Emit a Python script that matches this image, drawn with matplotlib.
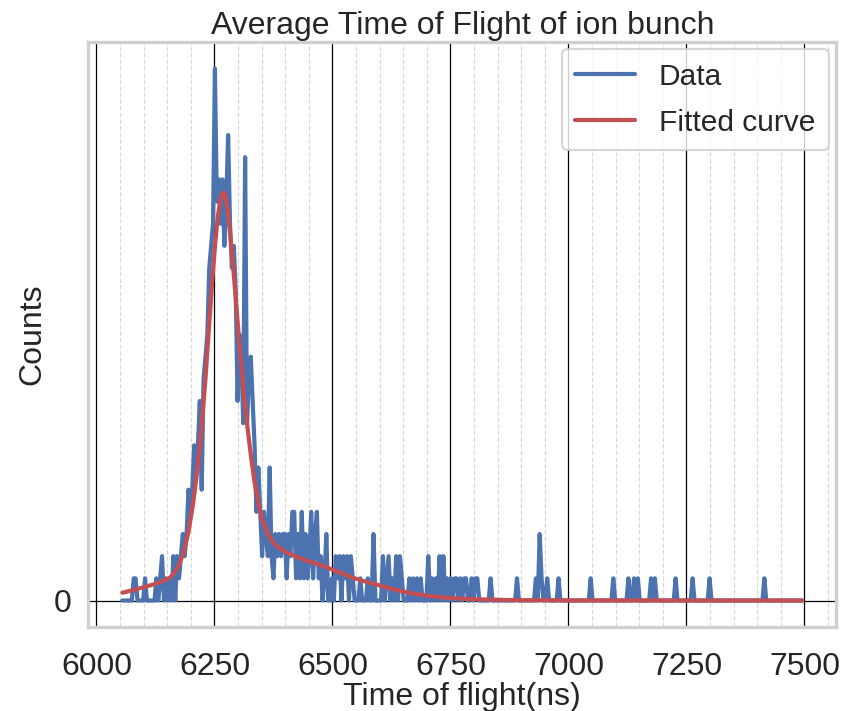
import numpy as np
import matplotlib
matplotlib.use("Agg")
import matplotlib.pyplot as plt
from matplotlib.ticker import MultipleLocator
import seaborn as sns

# histogram of time of flight, 4 ns bins starting at 6055 ns
bin_start = 6055
bin_width = 4
n_bins = 361

# counts of the dense part (6055 .. 6599 ns)
counts_dense = [
    0, 0, 0, 0, 0, 0, 1, 1, 0, 0, 0, 0, 1, 0, 0, 0, 0, 0, 1, 0,
    1, 2, 0, 1, 0, 1, 0, 2, 0, 2, 1, 2, 3, 2, 3, 5, 4, 5, 7, 6,
    7, 9, 5, 10, 11, 12, 15, 16, 17, 24, 18, 19, 17, 19, 16, 18, 21, 17, 15, 16,
    14, 9, 12, 11, 8, 20, 8, 10, 11, 9, 7, 4, 6, 4, 2, 4, 3, 2, 6, 2,
    1, 3, 2, 3, 2, 3, 3, 1, 3, 2, 4, 4, 1, 3, 1, 4, 1, 3, 1, 2,
    4, 1, 3, 4, 1, 2, 0, 1, 3, 0, 0, 1, 0, 2, 1, 2, 0, 2, 1, 2,
    0, 2, 1, 0, 0, 0, 1, 0, 0, 0, 1, 0, 0, 3, 0, 0, 0,
]

# sparse tail: bins with counts after 6600 ns
tail_times = [6607, 6615, 6619, 6627, 6635, 6643, 6647, 6663, 6671, 6679,
              6687, 6703, 6711, 6719, 6727, 6735, 6743, 6751, 6759, 6763,
              6771, 6779, 6783, 6795, 6803, 6807, 6835, 6891, 6931, 6939,
              6943, 6955, 6979, 7047, 7095, 7127, 7139, 7147, 7175, 7183,
              7227, 7263, 7299, 7415]
tail_counts = [2, 1, 2, 1, 2, 2, 1, 1, 1, 1,
               1, 2, 1, 1, 2, 2, 1, 1, 1, 1,
               1, 1, 1, 1, 1, 1, 1, 1, 1, 3,
               1, 1, 1, 1, 1, 1, 1, 1, 1, 1,
               1, 1, 1, 1]

# fitted curve
fit_t = [6055, 6080, 6100, 6120, 6140, 6155, 6165, 6175, 6185, 6195,
         6205, 6215, 6223, 6231, 6239, 6246, 6252, 6257, 6262, 6266,
         6270, 6274, 6278, 6283, 6289, 6296, 6304, 6312, 6320, 6328,
         6336, 6344, 6352, 6362, 6373, 6385, 6400, 6420, 6445, 6475,
         6505, 6540, 6570, 6600, 6625, 6650, 6675, 6700, 6725, 6750,
         6800, 6850, 6900, 7000, 7200, 7495]
fit_c = [0.35, 0.48, 0.6, 0.72, 0.88, 1.02, 1.25, 1.6, 2.2, 3.1,
         4.4, 6.1, 7.9, 10.0, 12.5, 14.6, 16.2, 17.3, 18.0, 18.35,
         18.4, 18.2, 17.6, 16.6, 15.2, 13.4, 11.3, 9.4, 7.8, 6.4,
         5.2, 4.3, 3.6, 3.05, 2.65, 2.4, 2.2, 2.0, 1.8, 1.6,
         1.35, 1.05, 0.85, 0.68, 0.53, 0.4, 0.3, 0.22, 0.16, 0.11,
         0.06, 0.03, 0.015, 0.005, 0.0, 0.0]

tof = bin_start + bin_width * np.arange(n_bins)
counts = np.zeros(n_bins)
counts[:len(counts_dense)] = counts_dense
for t, c in zip(tail_times, tail_counts):
    counts[(t - bin_start) // bin_width] = c

sns.set_theme(style="whitegrid", context="talk", color_codes=True)
plt.rcParams['font.family'] = ['Liberation Sans', 'DejaVu Sans']

fig, ax = plt.subplots(figsize=(8.42, 7.11), dpi=100)
fig.subplots_adjust(left=0.105, right=0.993, top=0.941, bottom=0.118)

ax.plot(tof, counts, color='b', linewidth=3, label="Data")
ax.plot(fit_t, fit_c, color='r', linewidth=3, label="Fitted curve")

ax.xaxis.set_major_locator(MultipleLocator(250))
ax.xaxis.set_minor_locator(MultipleLocator(50))
ax.set_yticks([0])
ax.grid(which='major', color='black', linewidth=0.9)
ax.grid(which='minor', axis='x', color='#d9d9d9', linestyle='--', linewidth=0.9)
ax.tick_params(axis='both', labelsize=23)
ax.tick_params(axis='x', pad=9)

for s in ax.spines.values():
    s.set_color('#d0d0d0')
    s.set_linewidth(2.4)

ax.set_title("Average Time of Flight of ion bunch", fontsize=23)
ax.set_xlabel("Time of flight(ns)", fontsize=23, labelpad=0)
ax.set_ylabel("Counts", fontsize=23)
ax.legend(fontsize=21.5, loc='upper right', borderaxespad=0.25,
          labelspacing=0.6, borderpad=0.45)

plt.savefig("out.png", dpi=100)
